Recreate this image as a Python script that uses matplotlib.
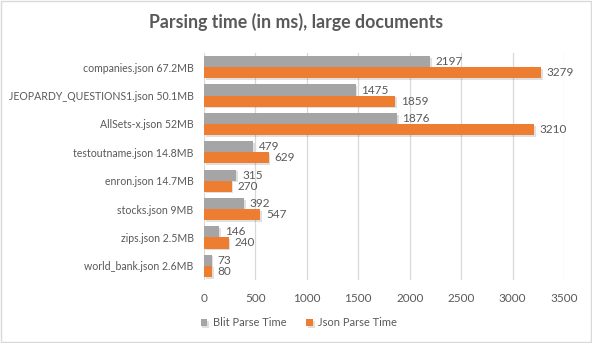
import matplotlib
matplotlib.use("Agg")
import matplotlib.pyplot as plt
import matplotlib.patheffects as pe
from matplotlib.patches import Rectangle
import numpy as np

plt.rcParams['font.family'] = ['Lato', 'DejaVu Sans']

categories = ["companies.json 67.2MB", "JEOPARDY_QUESTIONS1.json 50.1MB", "AllSets-x.json 52MB",
              "testoutname.json 14.8MB", "enron.json 14.7MB", "stocks.json 9MB",
              "zips.json 2.5MB", "world_bank.json 2.6MB"]
blit = [2197, 1475, 1876, 479, 315, 392, 146, 73]
json_t = [3279, 1859, 3210, 629, 270, 547, 240, 80]
xticks = [0, 500, 1000, 1500, 2000, 2500, 3000, 3500]

GRAY = "#A5A5A5"
ORANGE = "#ED7D31"
TEXT = "#595959"
GRID = "#D9D9D9"

fig = plt.figure(figsize=(5.92, 3.43), dpi=100)
ax = fig.add_axes([204/592, 1-280/343, (564-204)/592, (280-53)/343])

y = np.arange(len(categories))
h = 0.39
shadow = [pe.SimplePatchShadow(offset=(1.2, -1.2), shadow_rgbFace="#000000", alpha=0.12), pe.Normal()]
b1 = ax.barh(y - h/2, blit, height=h, color=GRAY, label="Blit Parse Time", zorder=3, path_effects=shadow)
b2 = ax.barh(y + h/2, json_t, height=h, color=ORANGE, label="Json Parse Time", zorder=3, path_effects=shadow)

for bars, vals in ((b1, blit), (b2, json_t)):
    for bar, v in zip(bars, vals):
        ax.annotate(str(v), (v, bar.get_y() + bar.get_height()/2), xytext=(4, 0),
                    textcoords="offset points", va="center", ha="left", fontsize=8.5, color=TEXT)

ax.set_ylim(len(categories) - 0.5, -0.5)
ax.set_xlim(0, 3500)
ax.set_xticks(xticks)
ax.set_xticklabels([str(t) for t in xticks])
ax.set_yticks(y)
ax.set_yticklabels(categories)
ax.tick_params(axis='both', length=0, labelsize=8.5, colors=TEXT)
ax.tick_params(axis='y', labelsize=7.6)
ax.tick_params(axis='x', pad=9)
ax.tick_params(axis='y', pad=7.5)
ax.grid(axis='x', color=GRID, linewidth=0.9, zorder=0)
for s in ax.spines.values():
    s.set_visible(False)

fig.text(0.5, 1-22/343, "Parsing time (in ms), large documents", ha="center", va="center",
         fontsize=12.8, fontweight="bold", color=TEXT)

fig.legend(handles=[b1, b2], labels=["Blit Parse Time", "Json Parse Time"], loc="center",
           bbox_to_anchor=(0.505, 1-323/343), ncol=2, frameon=False, fontsize=8,
           labelcolor=TEXT, handlelength=0.6, handleheight=0.6, handletextpad=0.5, columnspacing=1.8)

fig.patches.append(Rectangle((0.002, 0.003), 0.996, 0.994, transform=fig.transFigure,
                             fill=False, edgecolor=GRID, linewidth=1))

fig.savefig("out.png", dpi=100)
